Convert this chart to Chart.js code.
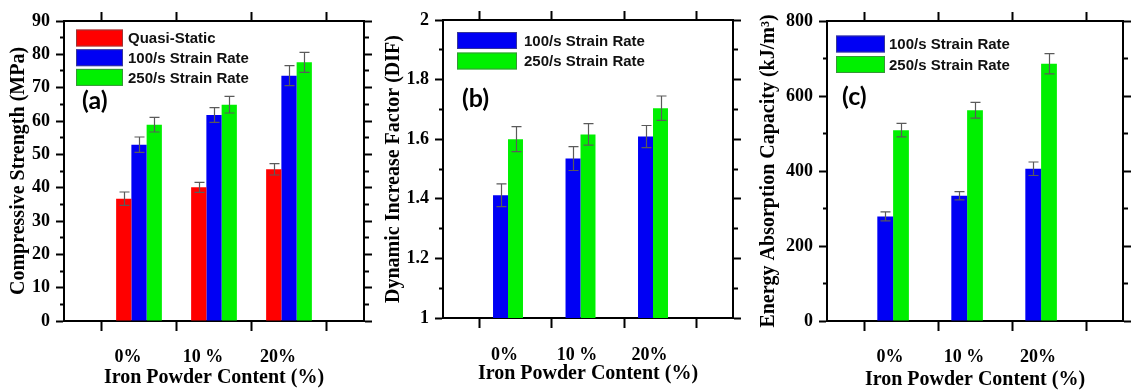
<!DOCTYPE html>
<html>
<head>
<meta charset="utf-8">
<script src="https://cdn.jsdelivr.net/npm/chart.js@4.4.0/dist/chart.umd.min.js"></script>
<style>
  html, body { margin: 0; padding: 0; background: #fff; }
  body { width: 1139px; height: 392px; position: relative; overflow: hidden; }
  canvas { position: absolute; top: 0; }
</style>
</head>
<body>
<canvas id="chartA" width="380" height="392" style="left:0px"></canvas>
<canvas id="chartB" width="370" height="392" style="left:380px"></canvas>
<canvas id="chartC" width="389" height="392" style="left:750px"></canvas>
<script>
// ---------------- DATA ----------------
const categories = ['0%', '10 %', '20%'];
const xTitle = 'Iron Powder Content (%)';
const seriesLabels = ['Quasi-Static', '100/s Strain Rate', '250/s Strain Rate'];

// (a) Compressive strength (MPa)
const strengthQuasi = [36.7, 40.1, 45.5];
const strengthQuasiErr = [2.0, 1.5, 1.7];
const strength100 = [52.9, 61.8, 73.6];
const strength100Err = [2.3, 2.2, 3.0];
const strength250 = [58.9, 64.9, 77.6];
const strength250Err = [2.2, 2.5, 3.0];

// (b) Dynamic increase factor
const dif100 = [1.412, 1.535, 1.609];
const dif100Err = [0.038, 0.040, 0.037];
const dif250 = [1.600, 1.616, 1.704];
const dif250Err = [0.042, 0.036, 0.041];

// (c) Energy absorption capacity (kJ/m3)
const energy100 = [279, 334, 406];
const energy100Err = [12, 11, 18];
const energy250 = [509, 562, 686];
const energy250Err = [18, 21, 27];

const emptySeries = [null, null, null];

// ---------------- STYLE ----------------
const RED = '#ff0000', BLUE = '#0000f4', GREEN = '#00f000';
const SERIF = "'Liberation Serif', 'Times New Roman', serif";
const SANS = "'Liberation Sans', Arial, sans-serif";

const pad = arr => [null, ...arr, null];
const axisLabels = ['', ...categories, ''];

function isMajor(v, step) {
  const r = v / step;
  return Math.abs(r - Math.round(r)) < 1e-6;
}

const decorPlugin = {
  id: 'decor',
  afterDatasetsDraw(chart) {
    const ctx = chart.ctx;
    const y = chart.scales.y;
    // error bars
    chart.data.datasets.forEach((ds, i) => {
      if (!ds.errors) return;
      const meta = chart.getDatasetMeta(i);
      meta.data.forEach((el, j) => {
        const v = ds.data[j], e = ds.errors[j];
        if (v == null || e == null) return;
        const x = Math.round(el.x) + 0.5;
        const yt = y.getPixelForValue(v + e);
        const yb = y.getPixelForValue(v - e);
        ctx.save();
        ctx.strokeStyle = '#5a5a5a';
        ctx.lineWidth = 1.2;
        ctx.beginPath();
        ctx.moveTo(x, yt); ctx.lineTo(x, yb);
        ctx.moveTo(x - 5, yt); ctx.lineTo(x + 5, yt);
        ctx.moveTo(x - 5, yb); ctx.lineTo(x + 5, yb);
        ctx.stroke();
        ctx.restore();
      });
    });
  },
  afterDraw(chart) {
    const o = chart.options.plugins.decor;
    const ctx = chart.ctx;
    ctx.save();
    // legend
    let row = 0;
    chart.data.datasets.forEach(ds => {
      if (!ds.inLegend) return;
      const cy = o.legendY + row * o.legendStep;
      ctx.fillStyle = ds.backgroundColor;
      ctx.fillRect(o.boxX, cy - o.boxH / 2, o.boxW, o.boxH);
      ctx.strokeStyle = 'rgba(90,90,90,0.6)';
      ctx.lineWidth = 1;
      ctx.strokeRect(o.boxX + 0.5, cy - o.boxH / 2 + 0.5, o.boxW - 1, o.boxH - 1);
      ctx.fillStyle = '#111';
      ctx.font = 'bold 15px ' + SANS;
      ctx.textBaseline = 'middle';
      ctx.textAlign = 'left';
      ctx.fillText(ds.label, o.textX, cy + 1);
      row++;
    });
    // panel tag
    ctx.font = 'bold 25px Lato, ' + SANS;
    ctx.fillStyle = '#000';
    ctx.textBaseline = 'middle';
    ctx.fillText(o.tag, o.tagX, o.tagY);
    ctx.restore();
  }
};

function makeChart(id, p) {
  const datasets = p.series.map(s => ({
    label: s.label,
    data: pad(s.values),
    errors: s.errors ? pad(s.errors) : null,
    backgroundColor: s.color,
    borderWidth: 0,
    barPercentage: 1,
    categoryPercentage: p.catPct,
    inLegend: s.inLegend !== false,
    xAxisID: 'x', yAxisID: 'y'
  }));
  const TL = 8, ML = 4;
  const yCommon = {
    type: 'linear', min: p.yMin, max: p.yMax,
    grid: {
      drawOnChartArea: false, drawTicks: true, tickLength: TL, tickColor: '#000', tickWidth: 2
    },
    border: { display: true, color: '#000', width: 2 }
  };
  const tickFont = { family: SERIF, size: 18, weight: 'bold' };
  new Chart(document.getElementById(id), {
    type: 'bar',
    data: { labels: axisLabels, datasets },
    options: {
      responsive: false, animation: false, devicePixelRatio: 1,
      layout: { padding: 0 },
      plugins: { legend: { display: false }, tooltip: { enabled: false }, decor: p.decor },
      scales: {
        x: {
          type: 'category', position: 'bottom', offset: false,
          grid: { drawOnChartArea: false, tickLength: 10, tickColor: '#000', tickWidth: 2 },
          border: { display: true, color: '#000', width: 2 },
          ticks: { font: tickFont, color: '#000', padding: p.xTickPad, labelOffset: -11, autoSkip: false, maxRotation: 0 },
          title: { display: true, text: xTitle, font: { family: SERIF, size: 20, weight: 'bold' }, color: '#000', padding: { top: 0, bottom: p.xTitlePad } },
          afterFit: s => { s.height = p.bottomH; }
        },
        x2: {
          type: 'category', position: 'top', offset: false,
          grid: { drawOnChartArea: false, tickLength: 9, tickColor: '#000', tickWidth: 2 },
          border: { display: true, color: '#000', width: 2 },
          ticks: { display: false },
          afterFit: s => { s.height = p.topH; }
        },
        y: Object.assign({}, yCommon, {
          position: 'left',
          grid: Object.assign({}, yCommon.grid, {
            tickBorderDash: c => isMajor(c.tick.value, p.major) ? [] : [0, TL - ML, ML, 200]
          }),
          ticks: {
            stepSize: p.minor, autoSkip: false, font: tickFont, color: '#000', padding: 6,
            callback: v => isMajor(v, p.major) ? String(+(+v).toFixed(2)) : ''
          },
          title: { display: true, text: p.yTitle, font: { family: SERIF, size: 20, weight: 'bold' }, color: '#000', padding: { top: p.yTitlePad, bottom: 0 } },
          afterFit: s => { s.width = p.leftW; }
        }),
        y2: Object.assign({}, yCommon, {
          position: 'right',
          grid: Object.assign({}, yCommon.grid, {
            tickBorderDash: c => isMajor(c.tick.value, p.major) ? [] : [ML, 200]
          }),
          ticks: { stepSize: p.minor, autoSkip: false, display: false },
          afterFit: s => { s.width = p.rightW; }
        })
      }
    },
    plugins: [decorPlugin]
  });
}

makeChart('chartA', {
  series: [
    { label: seriesLabels[0], values: strengthQuasi, errors: strengthQuasiErr, color: RED },
    { label: seriesLabels[1], values: strength100, errors: strength100Err, color: BLUE },
    { label: seriesLabels[2], values: strength250, errors: strength250Err, color: GREEN }
  ],
  catPct: 0.61, yMin: 0, yMax: 90, major: 10, minor: 5,
  yTitle: 'Compressive Strength (MPa)', yTitlePad: 7,
  leftW: 64, rightW: 14, topH: 21, bottomH: 71, xTickPad: 16, xTitlePad: 2,
  decor: { boxX: 76, boxW: 47, boxH: 17, legendY: 38, legendStep: 19.7, textX: 128, tag: '(a)', tagX: 82, tagY: 101 }
});

makeChart('chartB', {
  series: [
    { label: seriesLabels[1], values: dif100, errors: dif100Err, color: BLUE },
    { label: seriesLabels[2], values: dif250, errors: dif250Err, color: GREEN },
    { label: '', values: emptySeries, color: 'rgba(0,0,0,0)', inLegend: false }
  ],
  catPct: 0.62, yMin: 1, yMax: 2, major: 0.2, minor: 0.1,
  yTitle: 'Dynamic Increase Factor (DIF)', yTitlePad: 2,
  leftW: 63, rightW: 10, topH: 20, bottomH: 74, xTickPad: 17, xTitlePad: 6,
  decor: { boxX: 77, boxW: 60, boxH: 17, legendY: 40.5, legendStep: 20.5, textX: 144, tag: '(b)', tagX: 82, tagY: 99 }
});

makeChart('chartC', {
  series: [
    { label: seriesLabels[1], values: energy100, errors: energy100Err, color: BLUE },
    { label: seriesLabels[2], values: energy250, errors: energy250Err, color: GREEN },
    { label: '', values: emptySeries, color: 'rgba(0,0,0,0)', inLegend: false }
  ],
  catPct: 0.64, yMin: 0, yMax: 800, major: 200, minor: 100,
  yTitle: 'Energy Absorption Capacity (kJ/m³)', yTitlePad: 7,
  leftW: 77, rightW: 1, topH: 21, bottomH: 71, xTickPad: 16, xTitlePad: 0,
  decor: { boxX: 86, boxW: 49, boxH: 17, legendY: 44, legendStep: 20.5, textX: 139, tag: '(c)', tagX: 92, tagY: 97 }
});
</script>
</body>
</html>
